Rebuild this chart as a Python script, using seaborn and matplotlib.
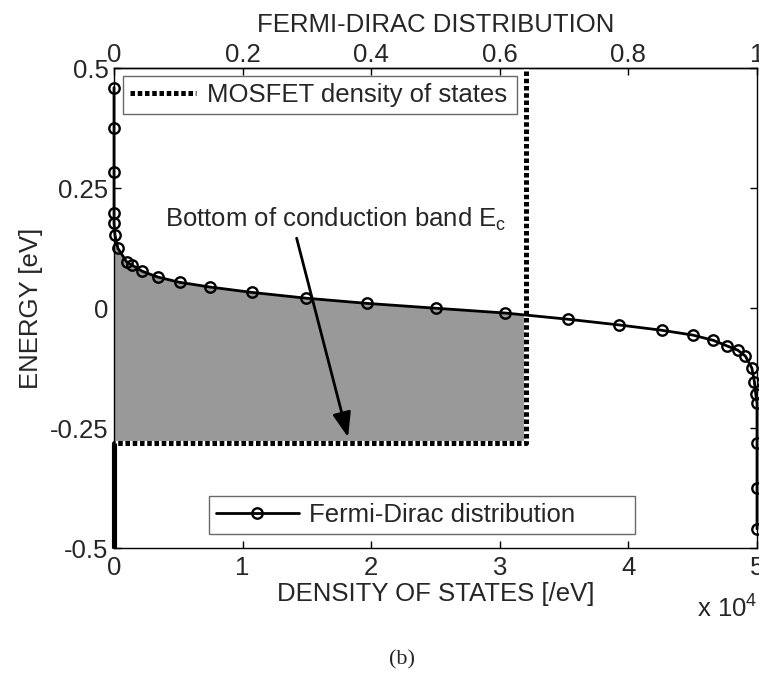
import numpy as np
import matplotlib
matplotlib.use("Agg")
import matplotlib.pyplot as plt
import seaborn as sns
from matplotlib.ticker import FuncFormatter, FixedLocator

# ---------------- data ----------------
fd_dos = [0, 0, 0, 0, 0, 80, 300, 1000, 1400, 2200, 3400, 5100, 7500, 10700,
          14900, 19700, 25000, 30400, 35300, 39300, 42600, 45000, 46600, 47700,
          48500, 49100, 49600, 49800, 49900, 50000, 50000, 50000, 50000]
fd_energy = [0.46, 0.375, 0.283, 0.198, 0.177, 0.152, 0.125, 0.096, 0.090, 0.077,
             0.065, 0.054, 0.044, 0.033, 0.021, 0.010, 0.0, -0.010, -0.023, -0.035,
             -0.046, -0.056, -0.067, -0.079, -0.0875, -0.100, -0.125, -0.154,
             -0.179, -0.198, -0.280, -0.375, -0.460]

mos_dos = [0, 0, 32000, 32000]
mos_energy = [-0.5, -0.28, -0.28, 0.5]
band_edge = -0.28
mos_level = 32000

dos_full = 50000            # DOS value corresponding to f = 1
dos_ticks = [0, 10000, 20000, 30000, 40000, 50000]
fd_ticks = [0, 0.2, 0.4, 0.6, 0.8, 1]
energy_ticks = [-0.5, -0.25, 0, 0.25, 0.5]

arrow_tail = (14200, 0.146)
arrow_head = (18200, -0.269)
label_pos = (3970, 0.169)

# ---------------- style ----------------
sns.set_theme(style="white")
plt.rcParams["font.family"] = ["Liberation Sans", "DejaVu Sans"]
plt.rcParams["mathtext.fontset"] = "custom"
plt.rcParams["mathtext.rm"] = "Liberation Sans"
plt.rcParams["mathtext.it"] = "Liberation Sans:italic"
plt.rcParams["mathtext.bf"] = "Liberation Sans:bold"
FS = 18.5

fig = plt.figure(figsize=(7.59, 6.77), dpi=100)
fig.patch.set_facecolor("white")
ax = fig.add_axes([0.1502, 0.1905, 0.8472, 0.7085])
ax.set_facecolor("white")

# gray fill: occupied states within the MOSFET DOS
dos_arr = np.array(fd_dos, dtype=float)
en_arr = np.array(fd_energy, dtype=float)
i = int(np.argmax(dos_arr > mos_level))
edge_e = np.interp(mos_level, [dos_arr[i - 1], dos_arr[i]], [en_arr[i - 1], en_arr[i]])
fx = np.append(dos_arr[:i], mos_level)
fy = np.append(en_arr[:i], edge_e)
ax.fill_between(fx, band_edge, fy, color="#999999", linewidth=0, zorder=1)

# MOSFET density of states (square dots, white gaps)
mos_line, = ax.plot(mos_dos, mos_energy, color="black", lw=3.6,
                    linestyle=(0, (0.9, 0.55)), gapcolor="white",
                    solid_capstyle="butt", dash_capstyle="butt",
                    clip_on=False, zorder=2, label="MOSFET density of states")
ax.plot(mos_dos[:2], mos_energy[:2], color="black", lw=3.7,
        solid_capstyle="butt", clip_on=False, zorder=2.1)

# Fermi-Dirac distribution
sns.lineplot(x=fd_dos, y=fd_energy, sort=False, estimator=None, ax=ax,
             color="black", linewidth=2.0, marker="o", markersize=7.5,
             markerfacecolor="none", markeredgecolor="black", markeredgewidth=1.7,
             legend=False, zorder=3)
fd_line = ax.get_lines()[-1]
fd_line.set_clip_on(False)
fd_line.set_label("Fermi-Dirac distribution")

ax.set_xlim(0, dos_full)
ax.set_ylim(-0.5, 0.5)

# ticks
ax.xaxis.set_major_locator(FixedLocator(dos_ticks))
ax.xaxis.set_major_formatter(FuncFormatter(lambda v, p: f"{v/1e4:g}"))
ax.yaxis.set_major_locator(FixedLocator(energy_ticks))
ax.yaxis.set_major_formatter(FuncFormatter(lambda v, p: f"{v:g}"))
ax.tick_params(axis="x", direction="in", length=5, width=1, color="black",
               labelsize=FS, pad=6, top=False, bottom=True)
ax.tick_params(axis="y", direction="in", length=5, width=1, color="black",
               labelsize=FS, pad=4, left=True, right=True)
for s in ax.spines.values():
    s.set_color("black")
    s.set_linewidth(1.0)

ax.set_xlabel("DENSITY OF STATES [/eV]", fontsize=FS, labelpad=1)
ax.set_ylabel("ENERGY [eV]", fontsize=FS, labelpad=5)

# top axis: Fermi-Dirac distribution
sec = ax.secondary_xaxis("top", functions=(lambda x: x / dos_full, lambda f: f * dos_full))
sec.xaxis.set_major_locator(FixedLocator(fd_ticks))
sec.xaxis.set_major_formatter(FuncFormatter(lambda v, p: f"{v:g}"))
sec.tick_params(direction="in", length=5, width=1, color="black", labelsize=FS, pad=1)
sec.spines["top"].set_linewidth(1.0)
sec.spines["top"].set_color("black")
sec.set_xlabel("FERMI-DIRAC DISTRIBUTION", fontsize=FS, labelpad=8)

# annotation
ax.text(label_pos[0], label_pos[1], r"Bottom of conduction band E$_{\rm c}$",
        fontsize=FS, ha="left", va="baseline", zorder=4)
ax.annotate("", xy=arrow_head, xytext=arrow_tail,
            arrowprops=dict(arrowstyle="-|>,head_length=0.75,head_width=0.28",
                            color="black", lw=2.0, mutation_scale=20,
                            shrinkA=0, shrinkB=0), zorder=4)

# legends
leg1 = ax.legend(handles=[mos_line], loc="upper left",
                 bbox_to_anchor=(0.014, 0.0, 0.613, 0.985), mode="expand",
                 borderaxespad=0, fontsize=FS, frameon=True, fancybox=False,
                 edgecolor="#444444", handlelength=2.57, handletextpad=0.4,
                 borderpad=0.28)
leg1.get_frame().set_linewidth(1.0)
leg1.set_zorder(6)
ax.add_artist(leg1)
leg2 = ax.legend(handles=[fd_line], loc="lower left",
                 bbox_to_anchor=(0.148, 0.029, 0.662, 0.9), mode="expand",
                 borderaxespad=0, fontsize=FS, frameon=True, fancybox=False,
                 edgecolor="#444444", handlelength=3.2, handletextpad=0.4,
                 borderpad=0.28)
leg2.get_frame().set_linewidth(1.0)
leg2.set_zorder(6)

# offset text and caption
fig.text(757 / 759, 1 - 609 / 677, r"x 10$^{4}$", fontsize=FS, ha="right", va="center")
fig.text(0.53, 1 - 660 / 677, "(b)", fontsize=16, ha="center", va="center",
         family=["Liberation Serif", "DejaVu Serif"])

fig.savefig("out.png", dpi=100, facecolor="white")
